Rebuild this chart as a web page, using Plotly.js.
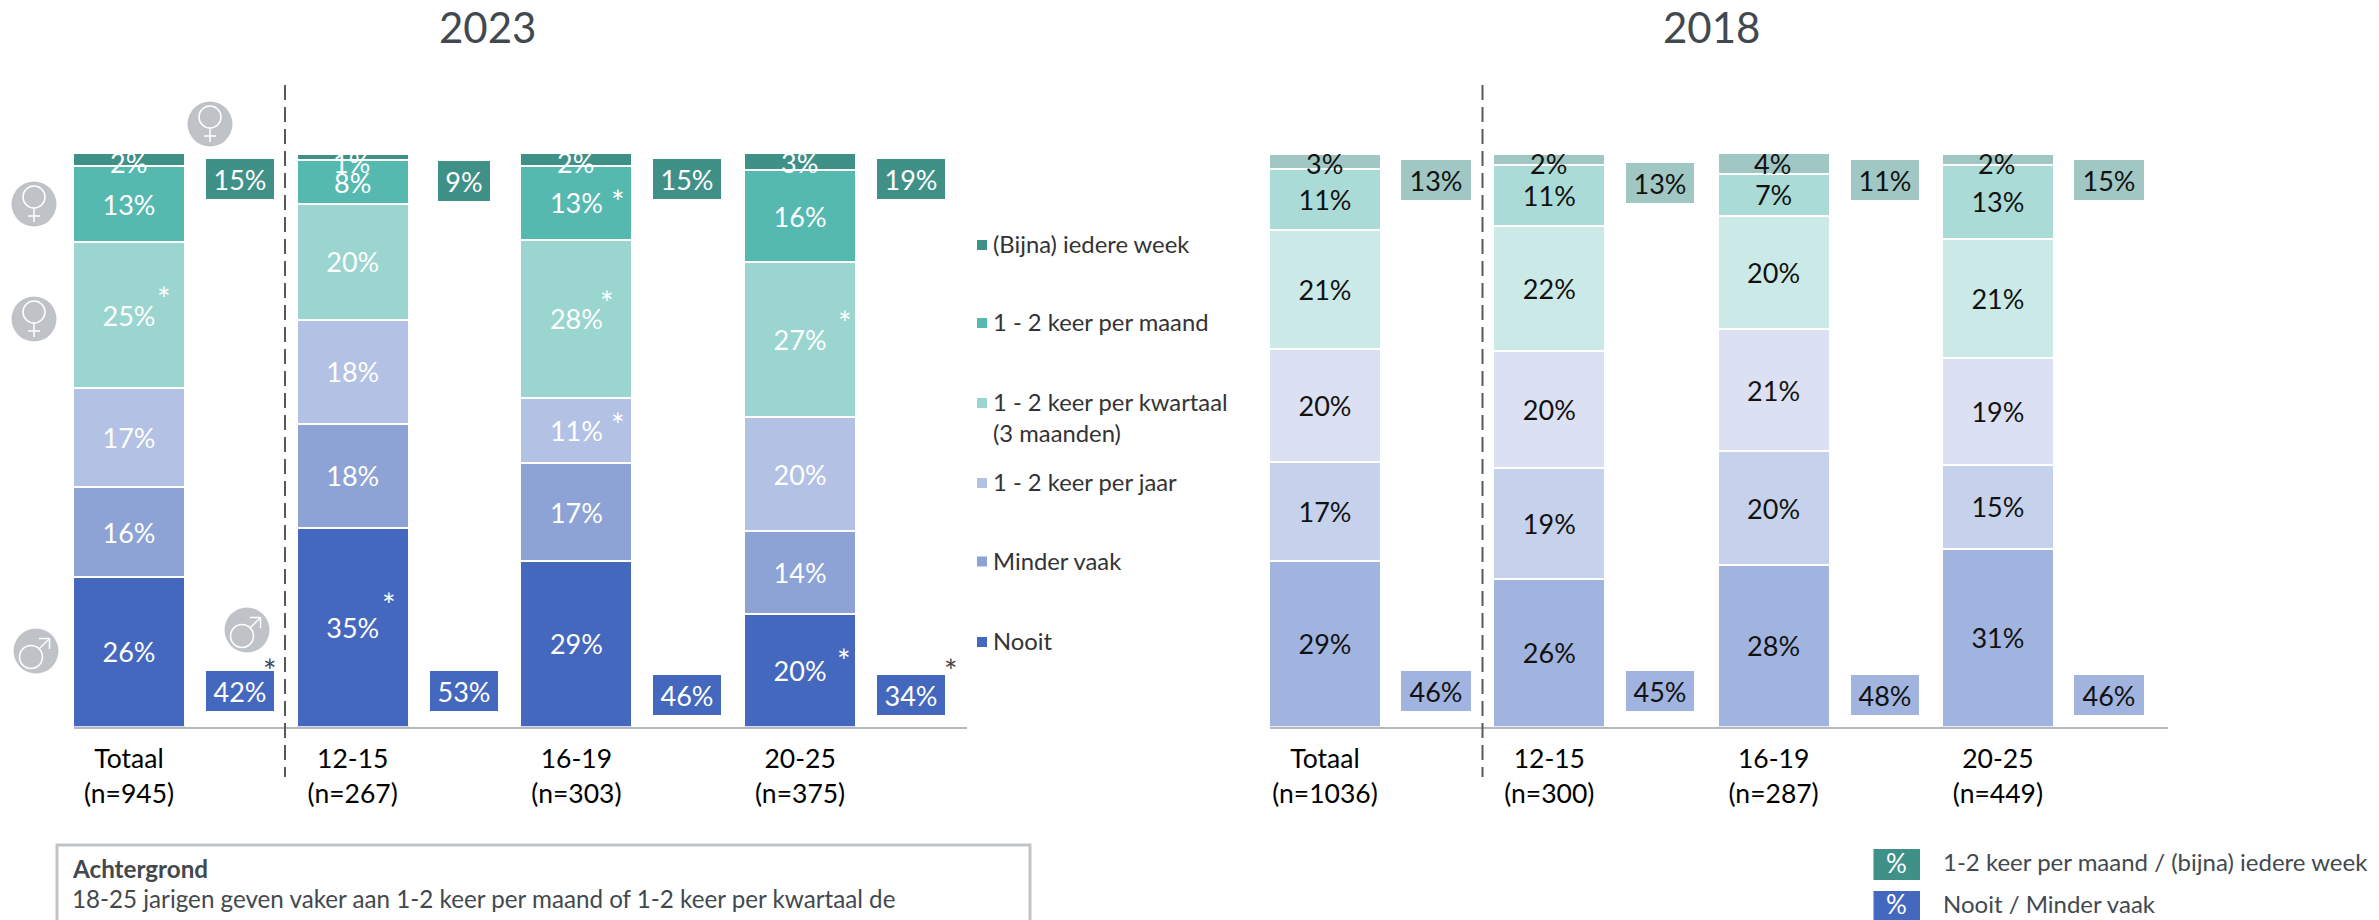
<!DOCTYPE html>
<html>
<head>
<meta charset="utf-8">
<script src="https://cdn.plot.ly/plotly-3.0.1.min.js"></script>
<style>html,body{margin:0;padding:0;background:#fff;overflow:hidden}#chart{width:2379px;height:920px}</style>
</head>
<body>
<div id="chart"></div>
<script>
// ---------- data ----------
const seriesNames = ['Nooit','Minder vaak','1 - 2 keer per jaar','1 - 2 keer per kwartaal<br>(3 maanden)','1 - 2 keer per maand','(Bijna) iedere week'];
const cat2023 = ['Totaal<br>(n=945)','12-15<br>(n=267)','16-19<br>(n=303)','20-25<br>(n=375)'];
const cat2018 = ['Totaal<br>(n=1036)','12-15<br>(n=300)','16-19<br>(n=287)','20-25<br>(n=449)'];

const nooit2023   = [26.0,34.7,28.8,19.7];
const minder2023  = [15.7,18.1,17.1,14.4];
const jaar2023    = [17.4,18.1,11.4,19.8];
const kwartaal2023= [25.3,20.2,27.6,27.1];
const maand2023   = [13.3, 7.6,12.9,16.0];
const week2023    = [ 2.3, 1.2, 2.2, 3.0];

const nooit2018   = [28.9,25.8,28.2,31.0];
const minder2018  = [17.3,19.4,19.9,14.7];
const jaar2018    = [19.8,20.4,21.3,18.6];
const kwartaal2018= [20.8,21.8,19.8,20.9];
const maand2018   = [10.6,10.6, 7.3,12.9];
const week2018    = [ 2.6, 2.0, 3.6, 1.9];

const hoog2023 = [15,9,15,19];
const laag2023 = [42,53,46,34];
const hoog2018 = [13,13,11,15];
const laag2018 = [46,45,48,46];

// ---------- styles ----------
const colors2023 = ['#4468BE','#8DA3D5','#B3C1E4','#9AD5CF','#55B9B0','#3F9087'];
const colors2018 = ['#A1B3DF','#C6D1EC','#DBE0F2','#CBE9E6','#AADBD7','#A0C7C3'];
const W = 2379, H = 920, FONT = 'Lato, sans-serif';
const GREY = '#42494E', ICON = '#BFC2C6';
const px = x => x / W, py = y => 1 - y / H;
const y0 = 726.5, yTop = 153;
const pctY = y => (y0 - y) / (y0 - yTop) * 100;

const traces = [], annotations = [], shapes = [];

function addChart(vals, cats, cols, txtCol, xa, ya, step) {
  const xs = [0,1,2,3];
  vals.forEach((v,i) => {
    const top = i === vals.length - 1;
    traces.push({
      type:'bar', name:seriesNames[i].replace('<br>',' '), x:xs, y:v, xaxis:xa, yaxis:ya,
      width:112/step, marker:{color:cols[i], line:{color:'#fff', width:2}},
      text: top ? undefined : v.map(a => Math.round(a)+'%'),
      textposition: top ? 'none' : 'inside', insidetextanchor:'middle', constraintext:'none',
      textangle:0, insidetextfont:{family:FONT,size:27,color:txtCol}, cliponaxis:false, hoverinfo:'x+y+name'
    });
    if (top) v.forEach((a,k) => annotations.push({
      xref:xa, yref:ya, x:k, y:pctY(163), text:Math.round(a)+'%', showarrow:false,
      xanchor:'center', yanchor:'middle', xshift:-1, font:{family:FONT,size:27,color:txtCol}
    }));
  });
}
addChart([nooit2023,minder2023,jaar2023,kwartaal2023,maand2023,week2023], cat2023, colors2023, '#FFFFFF', 'x', 'y', 223.7);
addChart([nooit2018,minder2018,jaar2018,kwartaal2018,maand2018,week2018], cat2018, colors2018, '#111111', 'x2', 'y2', 224.3);

function addBoxes(vals, centers, widths, col, txtCol, xa, ya) {
  vals.forEach((v,i) => annotations.push({
    xref:xa, yref:ya, x:i+0.5, xshift:-1, y:pctY(centers[i]), text:v+'%', showarrow:false, xanchor:'center', yanchor:'middle',
    width:widths[i], height:40, borderpad:0, borderwidth:0, bgcolor:col, align:'center', valign:'middle',
    font:{family:FONT,size:27,color:txtCol}
  }));
}
addBoxes(hoog2023,[179,181,179,179],[68,52,68,68],'#3F9087','#FFFFFF','x','y');
addBoxes(laag2023,[691,691,695,695],[68,68,68,68],'#4468BE','#FFFFFF','x','y');
addBoxes(hoog2018,[179,182,179,179],[70,68,68,70],'#A0C7C3','#111111','x2','y2');
addBoxes(laag2018,[691,691,695,695],[70,68,68,70],'#A1B3DF','#111111','x2','y2');

function txt(x,y,text,size,color,xanchor,yanchor,extra) {
  annotations.push(Object.assign({xref:'paper',yref:'paper',x:px(x),y:py(y),text:text,showarrow:false,
    xanchor:xanchor||'left',yanchor:yanchor||'middle',align:'left',font:{family:FONT,size:size,color:color},borderpad:0},extra||{}));
}
function line(x0,y0_,x1,y1,color,width,dash) {
  shapes.push({type:'line',xref:'paper',yref:'paper',x0:px(x0),y0:py(y0_),x1:px(x1),y1:py(y1),line:{color:color,width:width,dash:dash||'solid'}});
}
function rect(x0,y0_,x1,y1,fill,lineColor,lw) {
  shapes.push({type:'rect',xref:'paper',yref:'paper',x0:px(x0),y0:py(y0_),x1:px(x1),y1:py(y1),fillcolor:fill,line:{color:lineColor||fill,width:lw===undefined?0:lw}});
}
function circle(cx,cy,r,fill,lineColor,lw) {
  shapes.push({type:'circle',xref:'paper',yref:'paper',x0:px(cx-r),y0:py(cy-r),x1:px(cx+r),y1:py(cy+r),fillcolor:fill,line:{color:lineColor||fill,width:lw||0}});
}

// titles
txt(487,27,'2023',42,GREY,'center');
txt(1711,27,'2018',42,GREY,'center');

// dashed separators
line(285,85,285,777,'#595959',2,'15px,7px');
line(1482.5,85,1482.5,777,'#595959',2,'15px,7px');

// significance asterisks
[[164,289],[389,595],[617.5,192],[607,293],[617.5,415],[845,313],[844,651]].forEach(p => txt(p[0],p[1]+9,'*',32,'#FFFFFF','center'));
[[270,661],[951,661]].forEach(p => txt(p[0],p[1]+9,'*',32,GREY,'center'));

// legend of series
const legendY = [642,561.5,483,403,323,245];
seriesNames.forEach((n,i) => {
  rect(977,legendY[i]-5,987,legendY[i]+5,colors2023[i]);
  txt(992,legendY[i]-16,n,23.8,'#333333','left','top');
});

// legend of summary boxes
rect(1873.5,849,1920,880,'#3F9087');
rect(1873.5,891,1920,922,'#4468BE');
txt(1896.7,863,'%',26,'#FFFFFF','center');
txt(1896.7,904,'%',26,'#FFFFFF','center');
txt(1942,861,'1-2 keer per maand / (bijna) iedere week',24,GREY);
txt(1942,903,'Nooit / Minder vaak',24,GREY);

// note box
rect(57,845,1030,980,'rgba(0,0,0,0)','#BFC4C8',3);
txt(71,868,'<b>Achtergrond</b>',24.2,GREY);
txt(71,898,'18-25 jarigen geven vaker aan 1-2 keer per maand of 1-2 keer per kwartaal de',24.2,GREY);
txt(71,929,'bovenstaande te doen dan de jongeren tot 18 jaar',24.2,GREY);

// gender icons
function female(cx,cy) {
  circle(cx,cy,22.5,ICON);
  circle(cx,cy-7,11,'rgba(0,0,0,0)','#FFFFFF',1.5);
  line(cx,cy+4,cx,cy+18,'#FFFFFF',1.5);
  line(cx-6,cy+12,cx+6,cy+12,'#FFFFFF',1.5);
}
function male(cx,cy) {
  circle(cx,cy,22.5,ICON);
  circle(cx-5,cy+6,11.5,'rgba(0,0,0,0)','#FFFFFF',1.5);
  line(cx+3,cy-2,cx+13.5,cy-12.5,'#FFFFFF',1.5);
  line(cx+3,cy-12.5,cx+13.5,cy-12.5,'#FFFFFF',1.5);
  line(cx+13.5,cy-12.5,cx+13.5,cy-2,'#FFFFFF',1.5);
}
female(210,124); female(34,204); female(34,319);
male(36,651); male(247,630);

// ---------- layout ----------
const xBase = {type:'linear', tickmode:'array', tickvals:[0,1,2,3], showgrid:false, zeroline:false, showline:true,
  linecolor:'#B4B8BC', linewidth:2, ticks:'', ticklabelstandoff:8, tickfont:{family:FONT,size:26.5,color:'#000000'}, fixedrange:true};
const yBase = {range:[0,100], showgrid:false, zeroline:false, showline:false, showticklabels:false, ticks:'', fixedrange:true};

const layout = {
  width:W, height:H, margin:{l:0,r:0,t:0,b:0}, paper_bgcolor:'#fff', plot_bgcolor:'#fff',
  barmode:'stack', showlegend:false, font:{family:FONT,color:GREY},
  xaxis:Object.assign({},xBase,{domain:[px(74),px(967)], range:[-55/223.7,838/223.7], ticktext:cat2023, anchor:'y'}),
  yaxis:Object.assign({},yBase,{domain:[py(y0),py(yTop)], anchor:'x'}),
  xaxis2:Object.assign({},xBase,{domain:[px(1270),px(2168)], range:[-55/224.3,843/224.3], ticktext:cat2018, anchor:'y2'}),
  yaxis2:Object.assign({},yBase,{domain:[py(y0),py(yTop+1)], anchor:'x2'}),
  annotations:annotations, shapes:shapes
};
Plotly.newPlot('chart', traces, layout, {displayModeBar:false, responsive:false});
</script>
</body>
</html>
